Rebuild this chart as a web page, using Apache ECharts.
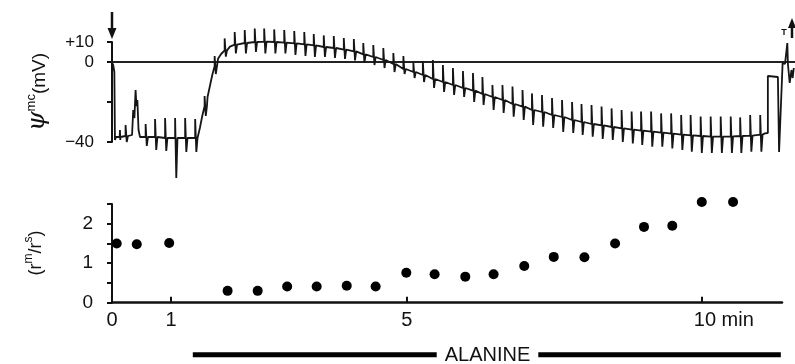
<!DOCTYPE html>
<html><head><meta charset="utf-8">
<script src="https://cdn.jsdelivr.net/npm/echarts@6/dist/echarts.min.js"></script>
<style>html,body{margin:0;padding:0;background:#fff}#c{width:795px;height:364px}</style>
</head><body><div id="c"></div>
<script>
// ---- Membrane potential trace (mV), time in minutes ----
// Current pulses: time, baseline, spike top, spike bottom
const pulseMin = [0.23,0.57,0.73,0.90,1.07,1.24,1.41,1.57,1.74,1.91,2.08,2.25,2.42,2.58,2.75,2.92,3.09,3.26,3.42,3.59,3.76,3.93,4.10,4.26,4.43,4.60,4.77,4.94,5.11,5.27,5.44,5.61,5.78,5.95,6.12,6.28,6.45,6.62,6.79,6.96,7.12,7.29,7.46,7.63,7.80,7.96,8.13,8.30,8.47,8.64,8.81,8.97,9.14,9.31,9.48,9.65,9.81,9.98,10.15,10.32,10.49,10.65,10.82,10.99];
const pulseBase = [-37,-37.5,-37.5,-38,-38,-38,-38,-22,-2,5.8,8.7,9.5,10,10.2,10,9.7,9.3,8.8,8.3,7.5,7,6.2,5.3,3.8,2.5,1,-1,-3.5,-5,-6.5,-8.5,-10,-11.5,-13,-14.3,-16,-17.5,-19,-21,-22.3,-24,-25,-26.5,-27.5,-29,-30,-31,-31.7,-32.5,-33.2,-33.8,-34.3,-34.8,-35.3,-35.8,-36.3,-36.7,-37,-37.3,-37.3,-37.2,-37,-36.8,-36.3];
const pulseTop = [-31.5,-31,-28.5,-28,-28,-28,-28.5,-17,3,11.8,15,16,16.7,16.7,16.3,16,15.5,15,14,13.3,13,12,11.5,9.5,8.5,7,4.5,3,-0.5,0.5,1,-1.5,-3,-4.5,-5.5,-7.5,-11.5,-11.5,-12.3,-14,-15.7,-16.5,-18,-19,-20,-21,-21.5,-22.3,-23.2,-24,-24.8,-24.8,-24.8,-25.7,-25.7,-26.5,-26.5,-27.3,-27.3,-27.3,-27.3,-27.7,-26.5,-26.5];
const pulseBottom = [-40,-42,-44,-44.5,-58,-45,-45,-27,-6,2.7,4.3,4.3,5,4.3,4.3,4.3,3.5,3,2.5,2.5,2,1.5,0.8,-0.5,-1.5,-3,-5,-6,-8,-10,-13,-15,-16.5,-17.5,-20,-21.5,-24,-25.5,-27.3,-29,-31.5,-32.3,-33,-35,-35.5,-36.5,-37.3,-38.5,-39,-40,-40.7,-41.5,-42.3,-42.3,-43.2,-44,-44.8,-45.5,-45.5,-45.5,-45.5,-45.5,-44.8,-44.8];
// Other points of the trace (start, alanine transient, rise, end)
const traceExtraMin = [-0.005,0.02,0.04,0.05,0.07,0.13,0.135,0.14,0.145,0.34,0.36,0.38,0.40,0.415,0.43,0.45,0.475,1.45,1.49,1.53,1.62,1.66,1.70,1.80,1.85,2.0,11.07,11.12,11.12,11.29,11.31,11.37,11.41,11.45,11.46,11.49,11.52,11.54,11.56];
const traceExtraMv  = [0,-1.5,-5,-39,-37.5,-37.5,-34,-39,-37.5,-36.5,-24,-28,-14,-22,-19,-34,-37.5,-38,-33,-27,-17.5,-12,-6.5,1.8,4,7.7,-35.7,-35.5,-7,-7.5,-45,-0.5,-1,9.5,-1,-10.5,-4,-8,-3];
const zeroLineMin = [-0.073, 11.58];

// ---- Resistance ratio r^m/r^s ----
const ratioMin = [0.08,0.42,0.97,1.96,2.47,2.97,3.47,3.98,4.47,4.99,5.47,5.99,6.47,6.99,7.49,8.01,8.53,9.02,9.50,10.0,10.53];
const ratioVal = [1.50,1.48,1.51,0.30,0.30,0.41,0.41,0.43,0.41,0.76,0.72,0.66,0.72,0.93,1.16,1.15,1.50,1.92,1.95,2.55,2.55];

// ---- Axes ticks / labels ----
const xTicks = [0,1,5,10];
const xTickLabels = ['0','1','5','10 min'];
const psiTicks = [10,0,-20,-40];
const psiLabelValues = [10,0,-40];
const psiLabels = ['+10','0','\u221240'];
const ratioLabelValues = [0,1,2];
const alanineMin = [1.37, 11.34];
const alanineLevel = -1.32;

const tracePts = [];
traceExtraMin.forEach((t,i)=>tracePts.push([t, traceExtraMv[i]]));
pulseMin.forEach((t,i)=>{
  tracePts.push([t,pulseBase[i]],[t,pulseTop[i]],[t+0.02,pulseBottom[i]],[t+0.04,pulseBase[i]]);
});
tracePts.sort((a,b)=>a[0]-b[0]);

const FONT = 'Liberation Sans';
const INK = '#111';
const chart = echarts.init(document.getElementById('c'), null, {renderer:'canvas'});
chart.setOption({
  animation:false,
  backgroundColor:'#fff',
  textStyle:{fontFamily:FONT,color:INK},
  grid:[
    {left:112,right:0,top:42,height:100,outerBoundsMode:'none'},
    {left:112,right:13,top:204,height:98.7,outerBoundsMode:'none'}
  ],
  xAxis:[
    {gridIndex:0,type:'value',min:0,max:11.58,show:false},
    {gridIndex:1,type:'value',min:0,max:11.36,offset:2,
     axisLine:{lineStyle:{color:INK,width:2.5}},
     axisTick:{inside:true,length:6,customValues:xTicks,lineStyle:{color:INK,width:2}},
     splitLine:{show:false},
     axisLabel:{customValues:xTicks,margin:6,fontSize:20,color:INK,fontFamily:FONT,
       formatter:v=>{const s=xTickLabels[xTicks.indexOf(v)]; return v===10?'{t|'+s+'}':s;},
       rich:{t:{fontSize:20,color:INK,fontFamily:FONT,padding:[0,0,0,44]}}}}
  ],
  yAxis:[
    {gridIndex:0,type:'value',min:-40,max:10,offset:12,
     axisLine:{show:true,lineStyle:{color:INK,width:2}},
     axisTick:{show:true,length:5,customValues:psiTicks,lineStyle:{color:INK,width:2}},
     splitLine:{show:false},
     axisLabel:{customValues:psiLabelValues,margin:6,fontSize:17,color:INK,fontFamily:FONT,
       formatter:v=>psiLabels[psiLabelValues.indexOf(v)]}},
    {gridIndex:1,type:'value',min:0,max:2.5,interval:0.5,offset:12,
     axisLine:{show:true,lineStyle:{color:INK,width:2}},
     axisTick:{show:true,length:5,lineStyle:{color:INK,width:2}},
     splitLine:{show:false},
     axisLabel:{customValues:ratioLabelValues,margin:7,fontSize:19,color:INK,fontFamily:FONT}}
  ],
  series:[
    {type:'line',xAxisIndex:0,yAxisIndex:0,data:zeroLineMin.map(t=>[t,0]),symbol:'none',clip:false,
     lineStyle:{color:'#222',width:1.8},z:1,silent:true},
    {type:'line',xAxisIndex:0,yAxisIndex:0,data:tracePts,symbol:'none',clip:false,
     lineStyle:{color:'#151515',width:1.8},z:2,silent:true},
    {type:'scatter',xAxisIndex:1,yAxisIndex:1,data:ratioMin.map((t,i)=>[t,ratioVal[i]]),
     symbol:'circle',symbolSize:10,itemStyle:{color:'#000',opacity:1},clip:false,z:3},
    {type:'line',xAxisIndex:1,yAxisIndex:1,data:alanineMin.map(t=>[t,alanineLevel]),symbol:'none',clip:false,
     lineStyle:{color:'#000',width:5},z:1,silent:true}
  ],
  graphic:[
    {type:'line',shape:{x1:112,y1:12,x2:112,y2:30},style:{stroke:INK,lineWidth:2.5}},
    {type:'polygon',shape:{points:[[107.5,28],[116.5,28],[112,39]]},style:{fill:INK}},
    {type:'line',shape:{x1:792,y1:38,x2:792,y2:26},style:{stroke:INK,lineWidth:2.5}},
    {type:'polygon',shape:{points:[[788,28],[796,28],[792,18]]},style:{fill:INK}},
    {type:'text',x:784,y:33,style:{text:'T',fontSize:9,fontWeight:'bold',fill:INK,align:'center',verticalAlign:'middle',fontFamily:FONT}},
    {type:'text',x:37,y:92,rotation:Math.PI/2,
     style:{text:'{p|\u03c8}{s|mc}{n|(mV)}',align:'center',verticalAlign:'middle',fill:INK,
       rich:{p:{fontSize:25,fontStyle:'italic',fontFamily:'DejaVu Serif',fill:INK,lineHeight:25,verticalAlign:'bottom'},
             s:{fontSize:13,fontFamily:FONT,fill:INK,verticalAlign:'top',lineHeight:13},
             n:{fontSize:19,fontFamily:FONT,fill:INK,lineHeight:25,verticalAlign:'bottom'}}}},
    {type:'text',x:34,y:253,rotation:Math.PI/2,
     style:{text:'{n|(r}{s|m}{n|/r}{s|s}{n|)}',align:'center',verticalAlign:'middle',fill:INK,
       rich:{n:{fontSize:18,fontFamily:FONT,fill:INK,lineHeight:22,verticalAlign:'bottom'},
             s:{fontSize:12,fontFamily:FONT,fill:INK,lineHeight:12,verticalAlign:'top'}}}},
    {type:'text',x:487.5,y:355,z:10,
     style:{text:'ALANINE',fontSize:20,fontFamily:FONT,fill:INK,align:'center',verticalAlign:'middle',
       backgroundColor:'#fff',padding:[0,8]}}
  ]
});
</script></body></html>
